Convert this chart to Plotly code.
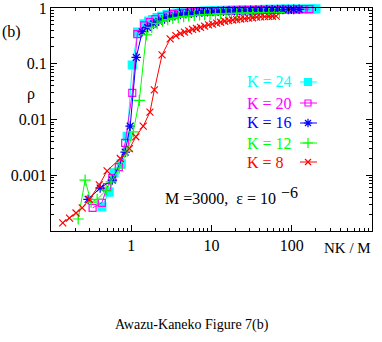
import plotly.graph_objects as go

# data: rho vs NK/M for M=3000, eps=1e-6
x24 = [0.43, 0.53, 0.61, 0.75, 0.89, 1.03, 1.2, 1.45, 1.65, 1.85, 2.1, 2.4, 2.8, 3.2, 3.7, 4.2,
       4.8, 5.5, 6.3, 7.2, 8.2, 9.4, 10.7, 12.2, 14, 16, 18.2, 20.8, 23.8, 27, 31, 35.5, 40.5,
       46, 53, 60, 69, 79, 90, 103, 117, 134, 153, 175, 200]
y24 = [2.7e-4, 5.0e-4, 1.1e-3, 1.6e-3, 5.0e-3, 0.095, 0.37, 0.52, 0.58, 0.62, 0.67, 0.71, 0.76,
       0.79, 0.81, 0.83, 0.845, 0.855, 0.865, 0.875, 0.885, 0.89, 0.895, 0.90, 0.905, 0.91, 0.915,
       0.92, 0.925, 0.93, 0.933, 0.936, 0.94, 0.943, 0.946, 0.948, 0.95, 0.952, 0.954, 0.956,
       0.958, 0.96, 0.961, 0.962, 0.963]

x20 = [0.33, 0.43, 0.50, 0.58, 0.70, 0.84, 1.03, 1.19, 1.45, 1.7, 2.0, 2.4, 2.8, 3.3, 3.9, 4.6,
       5.4, 6.4, 7.5, 8.8, 10.4, 12.2, 14.4, 17, 20, 23.5, 27.7, 32.6, 38.4, 45, 53, 62.5, 73.5,
       86.5, 102, 120, 141, 166]
y20 = [2.6e-4, 3.2e-4, 6.1e-4, 8.9e-4, 1.4e-3, 3.8e-3, 0.030, 0.34, 0.49, 0.56, 0.63, 0.69, 0.74,
       0.775, 0.80, 0.82, 0.835, 0.85, 0.86, 0.87, 0.88, 0.885, 0.89, 0.90, 0.905, 0.91, 0.915,
       0.92, 0.925, 0.93, 0.935, 0.94, 0.943, 0.946, 0.95, 0.952, 0.954, 0.956]

x16 = [0.29, 0.41, 0.58, 0.84, 0.97, 1.155, 1.37, 1.6, 1.9, 2.2, 2.6, 3.0, 3.5, 4.1, 4.8, 5.6,
       6.5, 7.6, 8.9, 10.4, 12.1, 14.1, 16.5, 19.3, 22.5, 26.3, 30.7, 35.8, 41.8, 48.8, 57, 66.5,
       77.6, 90.6, 105.7, 123.4]
y16 = [3.7e-4, 5.9e-4, 8.2e-4, 2.6e-3, 7.6e-3, 0.13, 0.376, 0.45, 0.52, 0.58, 0.64, 0.69, 0.73,
       0.765, 0.79, 0.81, 0.83, 0.845, 0.855, 0.865, 0.875, 0.88, 0.89, 0.895, 0.90, 0.905, 0.91,
       0.915, 0.92, 0.925, 0.93, 0.935, 0.94, 0.943, 0.946, 0.948]

x12 = [0.218, 0.266, 0.316, 0.376, 0.487, 0.56, 0.71, 0.89, 1.06, 1.26, 1.54, 1.8, 2.1, 2.45,
       2.85, 3.3, 3.85, 4.5, 5.2, 6.1, 7.1, 8.2, 9.6, 11.2, 13, 15.2, 17.7, 20.6, 24, 28, 32.6,
       38, 44.3, 51.6, 60, 70]
y12 = [1.64e-4, 8.2e-4, 3.3e-4, 3.7e-4, 5.4e-4, 7.6e-4, 1.35e-3, 2.7e-3, 6.0e-3, 0.022, 0.33,
       0.45, 0.53, 0.58, 0.62, 0.65, 0.68, 0.70, 0.72, 0.735, 0.75, 0.76, 0.77, 0.78, 0.79, 0.795,
       0.80, 0.805, 0.81, 0.815, 0.82, 0.822, 0.825, 0.828, 0.83, 0.832]

x8 = [0.14, 0.17, 0.205, 0.245, 0.30, 0.40, 0.50, 0.73, 0.95, 1.14, 1.41, 1.71, 1.94, 2.42, 3.05,
      3.6, 4.1, 4.6, 5.2, 5.8, 6.5, 7.3, 8.2, 9.2, 10.3, 11.6, 13.0, 14.6, 16.4, 18.4, 20.6, 23.1,
      25.9, 29.0, 32.5, 36.5, 41, 46, 51.5, 57.5, 64]
y8 = [1.4e-4, 1.7e-4, 2.1e-4, 2.6e-4, 3.7e-4, 6.7e-4, 1.2e-3, 2.0e-3, 3.0e-3, 4.9e-3, 7.6e-3,
      0.0136, 0.034, 0.144, 0.28, 0.32, 0.35, 0.37, 0.39, 0.415, 0.43, 0.45, 0.475, 0.50, 0.515,
      0.535, 0.555, 0.58, 0.595, 0.61, 0.62, 0.635, 0.645, 0.66, 0.67, 0.685, 0.693, 0.70, 0.707,
      0.712, 0.716]

labels = ["K = 24", "K = 20", "K = 16", "K = 12", "K = 8"]
colors = ["#00ffff", "#ff00ff", "#0000ff", "#00ff00", "#ff0000"]
symbols = ["square", "square-open", "asterisk-open", "cross-thin-open", "x-thin-open"]
sizes = [8, 7, 8, 8, 7]
xs = [x24, x20, x16, x12, x8]
ys = [y24, y20, y16, y12, y8]

FONT = "Liberation Serif"
W, H = 382, 342
L, R, T, B = 51, 10, 8, 111
PW, PH = W - L - R, H - T - B


def px(x, y):
    # pixel position in the 382x342 picture -> paper fraction
    return (x - L) / PW, (T + PH - y) / PH


fig = go.Figure()
for x, y, c, s, sz in zip(xs, ys, colors, symbols, sizes):
    fig.add_trace(go.Scatter(
        x=x, y=y, mode="lines+markers", cliponaxis=False,
        line=dict(color=c, width=1),
        marker=dict(symbol=s, size=sz, color=c, line=dict(color=c, width=1.2)),
        showlegend=False))

# legend: coloured text on the left, sample on the right (drawn on a hidden 0..1 axis pair)
leg_rows = [82, 103, 123, 143, 162]
annos = []
for lab, c, s, sz, row in zip(labels, colors, symbols, sizes, leg_rows):
    x0, yy = px(300, row)
    x1, _ = px(317, row)
    xm, _ = px(308, row)
    fig.add_trace(go.Scatter(
        x=[x0, x1], y=[yy, yy], xaxis="x2", yaxis="y2", mode="lines",
        line=dict(color=c, width=1), showlegend=False, hoverinfo="skip"))
    fig.add_trace(go.Scatter(
        x=[xm], y=[yy], xaxis="x2", yaxis="y2", mode="markers",
        marker=dict(symbol=s, size=sz - 1, color=c, line=dict(color=c, width=1.2)),
        showlegend=False, hoverinfo="skip"))
    ax, ay = px(245, row)
    annos.append(dict(x=ax, y=ay, text=lab, xanchor="left", yanchor="middle",
                      font=dict(family=FONT, size=16, color=c)))


def text_at(x, y, t, xanchor="center", **kw):
    ax, ay = px(x, y)
    d = dict(x=ax, y=ay, text=t, xanchor=xanchor, yanchor="middle")
    d.update(kw)
    annos.append(d)


text_at(11, 32, "(b)")
text_at(31, 94, "ρ")
text_at(373, 248, "NK / M", xanchor="right", font=dict(family=FONT, size=15, color="black"))
text_at(163, 198, "M =3000,  ε = 10", xanchor="left")
text_at(279, 192, "−6", xanchor="left")
text_at(192, 325, "Awazu-Kaneko Figure 7(b)", font=dict(family=FONT, size=14, color="black"))
for a in annos:
    a.update(xref="paper", yref="paper", showarrow=False)

minor_vals = [k * 10 ** e for e in range(-4, 3) for k in range(2, 10)]


def log_axis(rng, vals, text):
    return dict(
        type="log", range=rng, tickmode="array", tickvals=vals, ticktext=text,
        showgrid=False, zeroline=False, automargin=False, ticklabeloverflow="allow",
        showline=True, linecolor="black", linewidth=1, mirror="allticks",
        ticks="inside", ticklen=6, tickcolor="black", tickwidth=1,
        tickfont=dict(family=FONT, size=16, color="black"),
        minor=dict(ticks="inside", ticklen=3, tickcolor="black", tickwidth=1,
                   tickmode="array", tickvals=minor_vals, showgrid=False),
    )


fig.update_layout(
    width=W, height=H,
    margin=dict(l=L, r=R, t=T, b=B),
    paper_bgcolor="white", plot_bgcolor="white",
    font=dict(family=FONT, size=16, color="black"),
    xaxis=log_axis([-1, 3], [1, 10, 100], ["1", "10", "100"]),
    yaxis=log_axis([-4, 0.0005], [0.001, 0.01, 0.1, 1], ["0.001", "0.01", "0.1", "1"]),
    xaxis2=dict(range=[0, 1], overlaying="x", anchor="y2", visible=False,
                type="linear", autorange=False, automargin=False),
    yaxis2=dict(range=[0, 1], overlaying="y", anchor="x2", visible=False,
                type="linear", autorange=False, automargin=False),
    annotations=annos,
)

# page body has a default 8px margin; drop it so the figure sits at the window corner
fig.write_html("out.html", config={"displayModeBar": False},
               post_script="document.body.style.margin='0';")
